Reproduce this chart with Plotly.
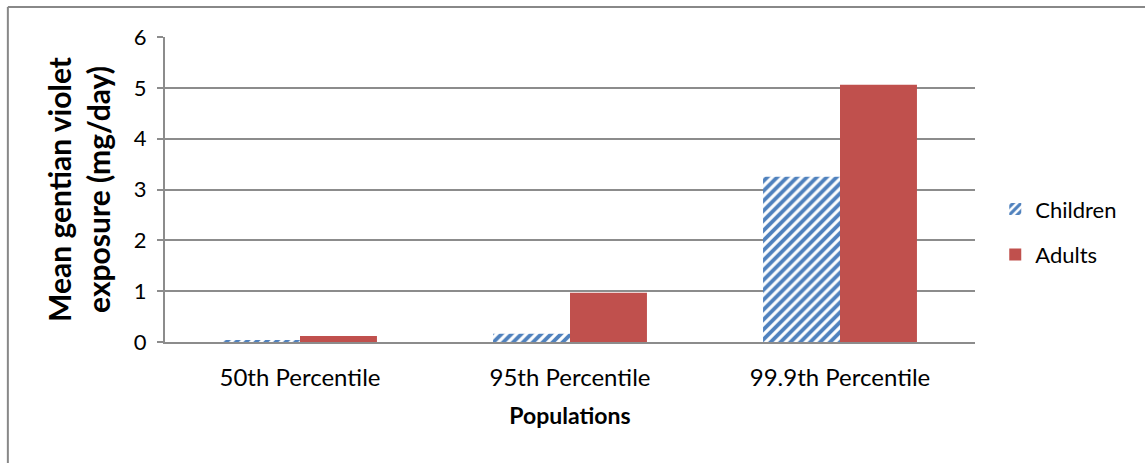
import plotly.graph_objects as go

categories = ["50th Percentile", "95th Percentile", "99.9th Percentile"]
children = [0.04, 0.16, 3.25]
adults = [0.12, 0.97, 5.06]
y_ticks = [0, 1, 2, 3, 4, 5, 6]

FONT = "Lato, Carlito, Calibri, sans-serif"
GRID = "#8c8c8c"

fig = go.Figure()
fig.add_trace(go.Bar(
    x=categories, y=children, name="Children", legendgroup="c",
    marker=dict(
        color="white",
        line=dict(width=0),
        pattern=dict(shape="/", fgcolor="#4F81BD", bgcolor="white",
                     size=7, solidity=0.55, fillmode="replace", fgopacity=1),
    ),
))
fig.add_trace(go.Bar(
    x=categories, y=adults, name="Adults", legendgroup="a",
    marker=dict(color="#C0504D", line=dict(width=0)),
))

fig.update_layout(
    width=1145, height=463,
    margin=dict(l=165, r=170, t=37, b=121),
    paper_bgcolor="white", plot_bgcolor="white",
    barmode="group", bargap=0.43, bargroupgap=0,
    font=dict(family=FONT, color="black"),
    showlegend=True,
    legend=dict(
        x=1.025, y=0.36, xanchor="left", yanchor="middle",
        font=dict(size=22, family=FONT), tracegroupgap=14,
        itemwidth=30,
    ),
    xaxis=dict(
        showline=True, linecolor=GRID, linewidth=2,
        ticks="", tickfont=dict(size=24, family=FONT),
        ticklabelstandoff=13,
        title=dict(text="<b>Populations</b>", font=dict(size=23, family=FONT), standoff=18),
    ),
    yaxis=dict(
        range=[0, 6], tickvals=y_ticks,
        showgrid=True, gridcolor=GRID, gridwidth=1.6,
        showline=True, linecolor=GRID, linewidth=2,
        ticks="outside", ticklen=6, tickcolor=GRID, tickwidth=1.6,
        tickfont=dict(size=22, family=FONT), ticklabelstandoff=6,
        zeroline=False,
        title=dict(text="<b>Mean gentian violet<br>exposure (mg/day)</b>",
                   font=dict(size=30, family=FONT), standoff=14),
    ),
    shapes=[
        dict(type="line", xref="paper", yref="paper",
             x0=-0.194, x1=-0.194, y0=-0.6, y1=1.098,
             line=dict(color="#888888", width=2)),
        dict(type="line", xref="paper", yref="paper",
             x0=-0.194, x1=1.5, y0=1.098, y1=1.098,
             line=dict(color="#888888", width=2)),
    ],
)

fig.write_html("out.html")
